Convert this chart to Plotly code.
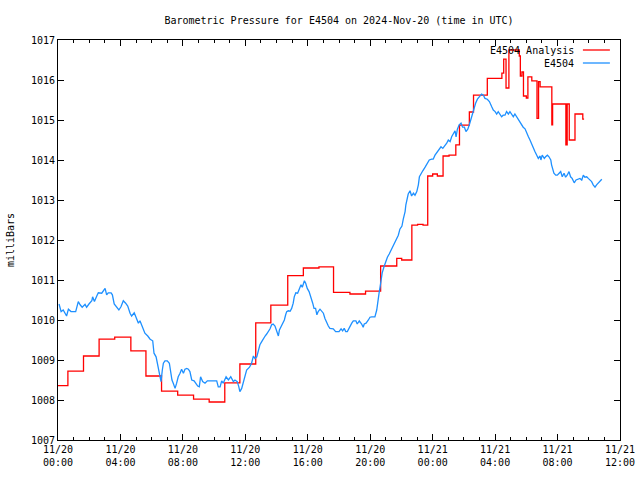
import pandas as pd
import plotly.graph_objects as go

BASE = pd.Timestamp("2024-11-20 00:00")

# E4504 observed pressure: minutes after 2024-11-20 00:00 UTC, mbar
obs_min = [4, 12, 20, 27, 33, 40, 50, 68, 78, 85, 93, 104, 110, 119, 130, 133, 140, 149, 155, 168,
           174, 181, 187, 193, 204, 209, 216, 226, 234, 242, 251, 260, 268, 277, 283, 293, 302, 309, 315, 324,
           334, 345, 354, 364, 369, 377, 382, 385, 392, 396, 401, 405, 411, 420, 428, 433, 438, 443, 450, 456,
           462, 469, 475, 482, 488, 495, 501, 507, 514, 523, 530, 537, 543, 548, 556, 565, 574, 584, 610, 616,
           623, 629, 635, 646, 655, 664, 674, 680, 689, 695, 699, 706, 712, 719, 725, 736, 744, 751, 757, 764,
           770, 776, 783, 789, 796, 802, 808, 815, 821, 827, 834, 840, 847, 851, 857, 864, 870, 875, 879, 885,
           892, 898, 904, 908, 914, 921, 927, 934, 939, 943, 947, 952, 958, 965, 972, 979, 984, 990, 995, 1000,
           1007, 1013, 1020, 1026, 1033, 1039, 1045, 1058, 1067, 1080, 1088, 1094, 1100, 1106, 1112, 1120, 1129, 1135, 1145, 1150,
           1158, 1167, 1173, 1177, 1184, 1193, 1199, 1206, 1218, 1225, 1229, 1234, 1238, 1241, 1246, 1253, 1259, 1266, 1273, 1283,
           1291, 1299, 1308, 1314, 1322, 1327, 1334, 1337, 1340, 1346, 1353, 1359, 1366, 1372, 1379, 1385, 1389, 1395, 1402, 1411,
           1419, 1427, 1436, 1442, 1449, 1458, 1466, 1472, 1479, 1487, 1494, 1500, 1507, 1513, 1519, 1526, 1530, 1535, 1542, 1549,
           1555, 1562, 1568, 1575, 1581, 1586, 1592, 1599, 1605, 1612, 1619, 1628, 1635, 1641, 1650, 1658, 1667, 1673, 1680, 1686,
           1692, 1699, 1705, 1711, 1718, 1724, 1731, 1737, 1744, 1750, 1756, 1763, 1769, 1776, 1782, 1788, 1795, 1801, 1808, 1814,
           1821, 1827, 1833, 1840, 1846, 1853, 1856, 1861, 1869, 1874, 1881, 1887, 1894, 1897, 1901, 1906, 1913, 1919, 1926, 1932,
           1938, 1945, 1951, 1957, 1964, 1970, 1976, 1984, 1991, 2000, 2006, 2013, 2019, 2025, 2032, 2038, 2045, 2051, 2057, 2064,
           2070, 2077, 2083, 2090]
obs_mb = [1010.40, 1010.21, 1010.25, 1010.17, 1010.10, 1010.27, 1010.21, 1010.21, 1010.46, 1010.38, 1010.32, 1010.39, 1010.32, 1010.40, 1010.48, 1010.58, 1010.46, 1010.60, 1010.68, 1010.67,
          1010.73, 1010.79, 1010.63, 1010.68, 1010.68, 1010.63, 1010.40, 1010.33, 1010.25, 1010.33, 1010.48, 1010.42, 1010.35, 1010.17, 1010.10, 1010.18, 1010.00, 1009.92, 1009.98, 1009.83,
          1009.67, 1009.60, 1009.52, 1009.48, 1009.17, 1009.08, 1008.92, 1008.75, 1008.58, 1008.46, 1008.75, 1008.92, 1008.98, 1008.98, 1008.92, 1008.71, 1008.50, 1008.42, 1008.29, 1008.42,
          1008.58, 1008.67, 1008.77, 1008.67, 1008.77, 1008.79, 1008.77, 1008.71, 1008.50, 1008.48, 1008.42, 1008.35, 1008.33, 1008.58, 1008.46, 1008.42, 1008.48, 1008.48, 1008.48, 1008.33,
          1008.33, 1008.48, 1008.42, 1008.58, 1008.50, 1008.58, 1008.46, 1008.50, 1008.46, 1008.33, 1008.21, 1008.29, 1008.42, 1008.58, 1008.75, 1008.82, 1008.92, 1009.10, 1009.04, 1009.08,
          1009.25, 1009.38, 1009.46, 1009.54, 1009.60, 1009.65, 1009.71, 1009.78, 1009.88, 1009.90, 1009.85, 1009.75, 1009.60, 1009.75, 1009.82, 1009.92, 1010.00, 1010.13, 1010.21, 1010.23,
          1010.22, 1010.29, 1010.42, 1010.58, 1010.68, 1010.67, 1010.77, 1010.88, 1010.82, 1010.92, 1010.98, 1010.92, 1010.79, 1010.71, 1010.58, 1010.42, 1010.29, 1010.29, 1010.13, 1010.21,
          1010.27, 1010.23, 1010.17, 1010.04, 1009.92, 1009.85, 1009.79, 1009.78, 1009.71, 1009.71, 1009.78, 1009.73, 1009.79, 1009.71, 1009.71, 1009.83, 1009.92, 1009.98, 1009.98, 1009.90,
          1009.98, 1009.90, 1009.82, 1009.90, 1009.92, 1010.00, 1010.07, 1010.08, 1010.08, 1010.25, 1010.50, 1010.67, 1010.83, 1011.00, 1011.18, 1011.33, 1011.46, 1011.57, 1011.65, 1011.79,
          1011.90, 1012.00, 1012.12, 1012.27, 1012.35, 1012.52, 1012.71, 1012.88, 1013.00, 1013.15, 1013.23, 1013.10, 1013.17, 1013.12, 1013.21, 1013.38, 1013.58, 1013.67, 1013.73, 1013.82,
          1013.92, 1014.00, 1014.02, 1014.02, 1014.12, 1014.21, 1014.27, 1014.33, 1014.29, 1014.35, 1014.42, 1014.50, 1014.46, 1014.58, 1014.67, 1014.73, 1014.58, 1014.77, 1014.88, 1014.92,
          1014.82, 1014.82, 1014.71, 1014.77, 1014.88, 1015.00, 1015.12, 1015.29, 1015.42, 1015.52, 1015.57, 1015.65, 1015.62, 1015.54, 1015.52, 1015.46, 1015.33, 1015.25, 1015.21, 1015.15,
          1015.21, 1015.15, 1015.08, 1015.12, 1015.12, 1015.21, 1015.15, 1015.21, 1015.15, 1015.08, 1015.15, 1015.07, 1015.00, 1014.92, 1014.88, 1014.82, 1014.78, 1014.67, 1014.58, 1014.50,
          1014.38, 1014.29, 1014.21, 1014.12, 1014.04, 1014.10, 1014.00, 1014.12, 1014.04, 1014.08, 1014.12, 1014.08, 1014.00, 1013.88, 1013.79, 1013.67, 1013.62, 1013.62, 1013.67, 1013.71,
          1013.58, 1013.67, 1013.57, 1013.62, 1013.71, 1013.58, 1013.54, 1013.43, 1013.50, 1013.52, 1013.54, 1013.50, 1013.62, 1013.57, 1013.58, 1013.54, 1013.50, 1013.46, 1013.38, 1013.32,
          1013.38, 1013.43, 1013.48, 1013.52]

# E4504 Analysis (step series): minutes after 2024-11-20 00:00 UTC, mbar
ana_min = [0, 38, 98, 158, 218, 280, 338, 398, 460, 521, 581, 641, 699, 760, 818, 883, 943, 1003, 1059, 1122,
           1182, 1240, 1302, 1321, 1360, 1382, 1403, 1421, 1440, 1458, 1480, 1503, 1529, 1543, 1581, 1597, 1650, 1706, 1713, 1722,
           1733, 1773, 1777, 1783, 1789, 1800, 1806, 1821, 1841, 1847, 1853, 1898, 1901, 1952, 1957, 1965, 1987, 2017, 2022]
ana_mb = [1008.36, 1008.72, 1009.10, 1009.52, 1009.57, 1009.23, 1008.60, 1008.22, 1008.12, 1008.02, 1007.95, 1008.43, 1008.90, 1009.93, 1010.37, 1011.11, 1011.30, 1011.33, 1010.69, 1010.65,
          1010.72, 1011.35, 1011.54, 1011.50, 1012.37, 1012.39, 1012.37, 1013.60, 1013.65, 1013.60, 1014.10, 1014.12, 1014.38, 1014.87, 1015.20, 1015.62, 1016.04, 1016.17, 1016.52, 1015.80,
          1016.75, 1016.60, 1016.10, 1016.20, 1015.60, 1015.55, 1016.08, 1015.98, 1015.04, 1015.96, 1015.83, 1014.88, 1015.40, 1014.38, 1015.40, 1014.50, 1015.15, 1015.02, 1015.02]

TITLE = "Barometric Pressure for E4504 on 2024-Nov-20 (time in UTC)"
Y_LABEL = "milliBars"
NAMES = ["E4504 Analysis", "E4504"]
COLORS = ["#ff0000", "#1e90ff"]

obs_t = [BASE + pd.Timedelta(minutes=m) for m in obs_min]
ana_t = [BASE + pd.Timedelta(minutes=m) for m in ana_min]

FONT = "DejaVu Sans Mono"

fig = go.Figure()
fig.add_trace(go.Scatter(x=ana_t, y=ana_mb, mode="lines", line=dict(color=COLORS[0], width=1.3, shape="hv"),
                         name=NAMES[0], showlegend=False))
fig.add_trace(go.Scatter(x=obs_t, y=obs_mb, mode="lines", line=dict(color=COLORS[1], width=1.3),
                         name=NAMES[1], showlegend=False))

# gnuplot-style legend (text then sample line), top right inside the frame
leg_y = [0.975, 0.9425]
for name, col, ly in zip(NAMES, COLORS, leg_y):
    fig.add_annotation(xref="paper", yref="paper", x=0.921, y=ly, text=name, showarrow=False,
                       xanchor="right", yanchor="middle", font=dict(family=FONT, size=10, color="black"))
    fig.add_shape(type="line", xref="paper", yref="paper", x0=0.934, x1=0.982, y0=ly, y1=ly,
                  line=dict(color=col, width=1.3))

fig.update_layout(
    width=640, height=480,
    margin=dict(l=58, r=20, t=40, b=40),
    paper_bgcolor="white", plot_bgcolor="white",
    font=dict(family=FONT, size=10, color="black"),
    title=dict(text=TITLE, x=0.5, xref="paper", y=1 - 20 / 480, yanchor="middle",
               font=dict(family=FONT, size=10, color="black")),
    showlegend=False,
)
fig.update_xaxes(
    range=[BASE, BASE + pd.Timedelta(hours=36)], automargin=False,
    tick0=BASE, dtick=4 * 3600 * 1000, tickformat="%m/%d<br>%H:%M",
    ticks="inside", ticklen=6, tickcolor="black", showline=True, linecolor="black", linewidth=1,
    mirror="allticks", showgrid=False, zeroline=False,
    minor=dict(dtick=3600 * 1000, ticks="inside", ticklen=3, tickcolor="black", showgrid=False),
    tickfont=dict(family=FONT, size=10),
)
fig.update_yaxes(
    range=[1007, 1017], dtick=1, tick0=1007, tickformat="d", automargin=False,
    ticks="inside", ticklen=6, tickcolor="black", showline=True, linecolor="black", linewidth=1,
    mirror="allticks", showgrid=False, zeroline=False,
    title=dict(text=Y_LABEL, font=dict(family=FONT, size=10), standoff=14),
    tickfont=dict(family=FONT, size=10),
)

fig.write_html("out.html")
